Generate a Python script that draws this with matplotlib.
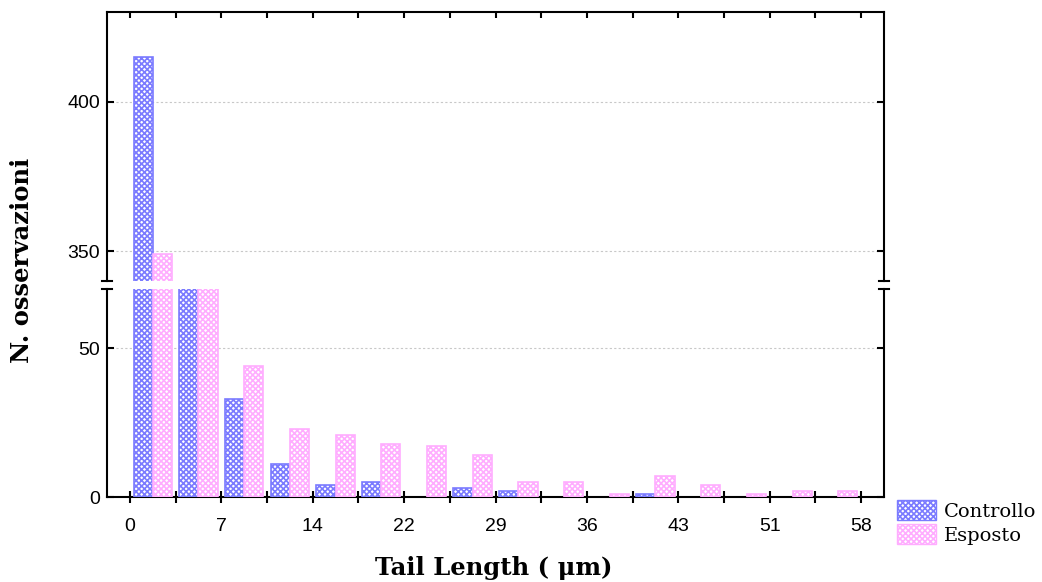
import numpy as np
import matplotlib
matplotlib.use("Agg")
import matplotlib.pyplot as plt
from matplotlib.patches import Patch

# Histogram data (16 bins, width 3.6 um)
bin_labels = ["0", "7", "14", "22", "29", "36", "43", "51", "58"]
controllo = [415, 180, 33, 11, 4, 5, 0, 3, 2, 0, 0, 1, 0, 0, 0, 0]
esposto = [349, 200, 44, 23, 21, 18, 17, 14, 5, 5, 1, 7, 4, 1, 2, 2]

BLUE = "#7b7bff"
PINK = "#ffadff"
HATCH = "xxxxxx"
plt.rcParams["hatch.linewidth"] = 1.2

W, H = 1042, 582
fig = plt.figure(figsize=(W / 100, H / 100), dpi=100)
left, right = 107 / W, 884 / W
ax_top = fig.add_axes([left, 1 - 281 / H, right - left, (281 - 12) / H])
ax_bot = fig.add_axes([left, 1 - 497 / H, right - left, (497 - 289) / H])

x = np.arange(len(controllo))
bw = 0.42
for ax in (ax_top, ax_bot):
    for vals, col, off in ((controllo, BLUE, -bw / 2), (esposto, PINK, bw / 2)):
        lws = [1.2 if v > 0 else 0 for v in vals]
        ax.bar(x + 0.5 + off, vals, bw, facecolor="white", edgecolor=col,
               hatch=HATCH, lw=lws, zorder=3)
    ax.set_xlim(-0.5, len(controllo) + 0.5)
    ax.grid(True, axis="y", color="#c8c8c8", ls=(0, (2, 2)), lw=0.8, zorder=0)
    for s in ax.spines.values():
        s.set_linewidth(1.5)
    ax.tick_params(axis="y", direction="in", length=5, width=1.5,
                   left=True, right=True, pad=5)

ax_top.set_ylim(340, 430)
ax_top.set_yticks([350, 400])
ax_top.spines["bottom"].set_visible(False)
ax_top.set_xticks(np.arange(len(controllo) + 1))
ax_top.tick_params(axis="x", direction="in", length=4, width=1.5,
                   bottom=False, top=True, labelbottom=False)

ax_bot.set_ylim(0, 70)
ax_bot.set_yticks([0, 50])
ax_bot.spines["top"].set_visible(False)
edges = np.arange(len(controllo) + 1)
ax_bot.set_xticks(edges)
ax_bot.set_xticklabels([bin_labels[i // 2] if i % 2 == 0 else "" for i in edges])
ax_bot.tick_params(axis="x", direction="inout", length=8, width=1.5,
                   top=False, pad=11)
for lab in ax_bot.get_xticklabels() + ax_bot.get_yticklabels() + ax_top.get_yticklabels():
    lab.set_family("Liberation Sans")
    lab.set_fontsize(14)

# break marks on both sides
d = 0.006
for xx in (0, 1):
    ax_top.plot([xx - d, xx + d], [0, 0], transform=ax_top.transAxes,
                color="black", lw=1.5, clip_on=False)
    ax_bot.plot([xx - d, xx + d], [1, 1], transform=ax_bot.transAxes,
                color="black", lw=1.5, clip_on=False)

fig.text(22 / W, 1 - 260 / H, "N. osservazioni", rotation=90, ha="center",
         va="center", family="DejaVu Serif", weight="bold", fontsize=17.5)
fig.text(494 / W, 1 - 568 / H, "Tail Length ( \u03bcm)", ha="center",
         va="center", family="DejaVu Serif", weight="bold", fontsize=17.5)

handles = [Patch(facecolor="white", edgecolor=BLUE, hatch=HATCH, label="Controllo"),
           Patch(facecolor="white", edgecolor=PINK, hatch=HATCH, label="Esposto")]
fig.legend(handles=handles, loc="upper left", bbox_to_anchor=(897 / W, 1 - 500 / H),
           frameon=False, prop={"family": "DejaVu Serif", "size": 14},
           handlelength=2.0, handleheight=1.2, handletextpad=0.4,
           labelspacing=0.2, borderaxespad=0, borderpad=0)

fig.savefig("out.png", dpi=100)
